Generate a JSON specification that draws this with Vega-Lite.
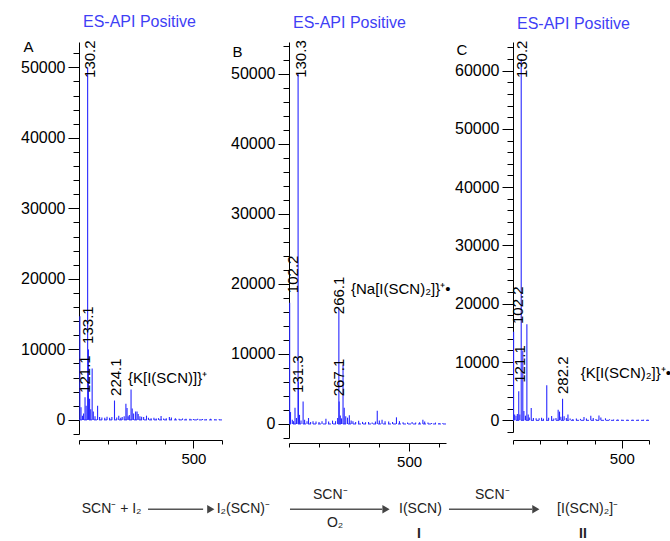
{
  "$schema": "https://vega.github.io/schema/vega-lite/v6.json",
  "padding": {"left": 20, "top": 14, "right": 0, "bottom": 0},
  "config": {
    "font": "Liberation Sans",
    "view": {"stroke": null},
    "axis": {"labelFontSize": 16, "labelColor": "black", "domainColor": "black", "tickColor": "black", "labelPadding": 3, "titleFontSize": 15, "titleFontWeight": "normal", "titleColor": "black", "grid": false, "labelOverlap": false, "labelFlush": false},
    "axisX": {"labelFontSize": 15},
    "title": {"anchor": "start", "frame": "group", "dx": 4, "color": "#3f3ff5", "fontSize": 16, "fontWeight": "normal", "baseline": "alphabetic", "offset": 9}
  },
  "datasets": {
    "peaks": [
      {"p": "A", "mz": 103, "v": 14700}, {"p": "A", "mz": 107, "v": 1800}, {"p": "A", "mz": 112, "v": 600}, {"p": "A", "mz": 116, "v": 900}, {"p": "A", "mz": 121.1, "v": 3200}, {"p": "A", "mz": 125, "v": 2000}, {"p": "A", "mz": 130.2, "v": 50000}, {"p": "A", "mz": 133.1, "v": 10000}, {"p": "A", "mz": 137, "v": 3000}, {"p": "A", "mz": 141, "v": 1500}, {"p": "A", "mz": 146, "v": 7300}, {"p": "A", "mz": 150, "v": 1200}, {"p": "A", "mz": 156, "v": 500}, {"p": "A", "mz": 165, "v": 2000}, {"p": "A", "mz": 172, "v": 400}, {"p": "A", "mz": 180, "v": 350}, {"p": "A", "mz": 190, "v": 300}, {"p": "A", "mz": 198, "v": 450}, {"p": "A", "mz": 207, "v": 300}, {"p": "A", "mz": 215, "v": 400}, {"p": "A", "mz": 224.1, "v": 2750}, {"p": "A", "mz": 232, "v": 350}, {"p": "A", "mz": 239, "v": 600}, {"p": "A", "mz": 246, "v": 300}, {"p": "A", "mz": 251, "v": 400}, {"p": "A", "mz": 258, "v": 500}, {"p": "A", "mz": 264, "v": 2300}, {"p": "A", "mz": 268, "v": 1700}, {"p": "A", "mz": 272, "v": 500}, {"p": "A", "mz": 276, "v": 700}, {"p": "A", "mz": 282, "v": 4300}, {"p": "A", "mz": 286, "v": 1600}, {"p": "A", "mz": 291, "v": 900}, {"p": "A", "mz": 298, "v": 1200}, {"p": "A", "mz": 303, "v": 1200}, {"p": "A", "mz": 307, "v": 850}, {"p": "A", "mz": 313, "v": 500}, {"p": "A", "mz": 319, "v": 450}, {"p": "A", "mz": 326, "v": 400}, {"p": "A", "mz": 336, "v": 600}, {"p": "A", "mz": 343, "v": 300}, {"p": "A", "mz": 352, "v": 250}, {"p": "A", "mz": 362, "v": 300}, {"p": "A", "mz": 370, "v": 200}, {"p": "A", "mz": 378, "v": 250}, {"p": "A", "mz": 387, "v": 550}, {"p": "A", "mz": 396, "v": 200}, {"p": "A", "mz": 405, "v": 250}, {"p": "A", "mz": 416, "v": 400}, {"p": "A", "mz": 423, "v": 350}, {"p": "A", "mz": 437, "v": 250}, {"p": "A", "mz": 450, "v": 150}, {"p": "A", "mz": 462, "v": 200}, {"p": "A", "mz": 474, "v": 150}, {"p": "A", "mz": 488, "v": 150}, {"p": "A", "mz": 500, "v": 120}, {"p": "A", "mz": 515, "v": 150}, {"p": "A", "mz": 532, "v": 120}, {"p": "A", "mz": 545, "v": 100}, {"p": "A", "mz": 560, "v": 180}, {"p": "A", "mz": 575, "v": 100}, {"p": "A", "mz": 590, "v": 100},
      {"p": "B", "mz": 102.2, "v": 17300}, {"p": "B", "mz": 105, "v": 1700}, {"p": "B", "mz": 111, "v": 600}, {"p": "B", "mz": 115, "v": 400}, {"p": "B", "mz": 120, "v": 2300}, {"p": "B", "mz": 125, "v": 850}, {"p": "B", "mz": 130.3, "v": 50000}, {"p": "B", "mz": 131.3, "v": 6000}, {"p": "B", "mz": 135, "v": 1300}, {"p": "B", "mz": 140, "v": 500}, {"p": "B", "mz": 147, "v": 3200}, {"p": "B", "mz": 152, "v": 600}, {"p": "B", "mz": 160, "v": 400}, {"p": "B", "mz": 165, "v": 850}, {"p": "B", "mz": 172, "v": 300}, {"p": "B", "mz": 180, "v": 400}, {"p": "B", "mz": 190, "v": 350}, {"p": "B", "mz": 200, "v": 300}, {"p": "B", "mz": 210, "v": 400}, {"p": "B", "mz": 223, "v": 760}, {"p": "B", "mz": 232, "v": 350}, {"p": "B", "mz": 245, "v": 480}, {"p": "B", "mz": 255, "v": 400}, {"p": "B", "mz": 262, "v": 850}, {"p": "B", "mz": 266.1, "v": 16600}, {"p": "B", "mz": 267.1, "v": 3200}, {"p": "B", "mz": 271, "v": 1200}, {"p": "B", "mz": 275, "v": 800}, {"p": "B", "mz": 280, "v": 8500}, {"p": "B", "mz": 284, "v": 2300}, {"p": "B", "mz": 289, "v": 1100}, {"p": "B", "mz": 295, "v": 900}, {"p": "B", "mz": 301, "v": 1240}, {"p": "B", "mz": 307, "v": 500}, {"p": "B", "mz": 313, "v": 400}, {"p": "B", "mz": 322, "v": 300}, {"p": "B", "mz": 332, "v": 450}, {"p": "B", "mz": 345, "v": 300}, {"p": "B", "mz": 355, "v": 250}, {"p": "B", "mz": 365, "v": 300}, {"p": "B", "mz": 377, "v": 200}, {"p": "B", "mz": 388, "v": 350}, {"p": "B", "mz": 394, "v": 1900}, {"p": "B", "mz": 401, "v": 500}, {"p": "B", "mz": 410, "v": 600}, {"p": "B", "mz": 420, "v": 400}, {"p": "B", "mz": 432, "v": 350}, {"p": "B", "mz": 445, "v": 300}, {"p": "B", "mz": 458, "v": 950}, {"p": "B", "mz": 468, "v": 400}, {"p": "B", "mz": 480, "v": 250}, {"p": "B", "mz": 495, "v": 200}, {"p": "B", "mz": 510, "v": 300}, {"p": "B", "mz": 522, "v": 200}, {"p": "B", "mz": 535, "v": 250}, {"p": "B", "mz": 546, "v": 600}, {"p": "B", "mz": 552, "v": 350}, {"p": "B", "mz": 563, "v": 200}, {"p": "B", "mz": 575, "v": 150}, {"p": "B", "mz": 588, "v": 200}, {"p": "B", "mz": 600, "v": 150}, {"p": "B", "mz": 612, "v": 100},
      {"p": "C", "mz": 102.2, "v": 15200}, {"p": "C", "mz": 106, "v": 1000}, {"p": "C", "mz": 111, "v": 800}, {"p": "C", "mz": 116, "v": 1100}, {"p": "C", "mz": 121.1, "v": 5000}, {"p": "C", "mz": 125, "v": 1000}, {"p": "C", "mz": 130.2, "v": 62000}, {"p": "C", "mz": 136, "v": 12000}, {"p": "C", "mz": 140, "v": 1600}, {"p": "C", "mz": 146, "v": 800}, {"p": "C", "mz": 151, "v": 16500}, {"p": "C", "mz": 156, "v": 1000}, {"p": "C", "mz": 160, "v": 500}, {"p": "C", "mz": 167, "v": 2100}, {"p": "C", "mz": 175, "v": 400}, {"p": "C", "mz": 185, "v": 350}, {"p": "C", "mz": 196, "v": 350}, {"p": "C", "mz": 205, "v": 450}, {"p": "C", "mz": 212, "v": 300}, {"p": "C", "mz": 224.1, "v": 6000}, {"p": "C", "mz": 231, "v": 450}, {"p": "C", "mz": 242, "v": 740}, {"p": "C", "mz": 250, "v": 300}, {"p": "C", "mz": 258, "v": 400}, {"p": "C", "mz": 266, "v": 1800}, {"p": "C", "mz": 271, "v": 1500}, {"p": "C", "mz": 276, "v": 600}, {"p": "C", "mz": 282.2, "v": 3700}, {"p": "C", "mz": 288, "v": 700}, {"p": "C", "mz": 296, "v": 400}, {"p": "C", "mz": 302, "v": 1000}, {"p": "C", "mz": 310, "v": 300}, {"p": "C", "mz": 320, "v": 250}, {"p": "C", "mz": 333, "v": 300}, {"p": "C", "mz": 348, "v": 250}, {"p": "C", "mz": 361, "v": 570}, {"p": "C", "mz": 370, "v": 300}, {"p": "C", "mz": 386, "v": 800}, {"p": "C", "mz": 395, "v": 400}, {"p": "C", "mz": 405, "v": 250}, {"p": "C", "mz": 416, "v": 850}, {"p": "C", "mz": 423, "v": 500}, {"p": "C", "mz": 440, "v": 350}, {"p": "C", "mz": 455, "v": 200}, {"p": "C", "mz": 470, "v": 150}, {"p": "C", "mz": 485, "v": 150}, {"p": "C", "mz": 500, "v": 120}, {"p": "C", "mz": 520, "v": 100}, {"p": "C", "mz": 540, "v": 100}, {"p": "C", "mz": 560, "v": 100}, {"p": "C", "mz": 580, "v": 100}, {"p": "C", "mz": 595, "v": 100}
    ],
    "labels": [
      {"p": "A", "t": "130.2", "mz": 140, "v": 48500, "r": 1},
      {"p": "A", "t": "133.1", "mz": 133.2, "v": 10780, "r": 1},
      {"p": "A", "t": "121.1", "mz": 122.7, "v": 3830, "r": 1},
      {"p": "A", "t": "224.1", "mz": 227.7, "v": 3400, "r": 1},
      {"p": "A", "t": "{K[I(SCN)]}\u207a", "mz": 271.4, "v": 5960, "r": 0},
      {"p": "B", "t": "130.3", "mz": 138.5, "v": 49390, "r": 1},
      {"p": "B", "t": "102.2", "mz": 113.4, "v": 18670, "r": 1},
      {"p": "B", "t": "131.3", "mz": 130.1, "v": 4430, "r": 1},
      {"p": "B", "t": "266.1", "mz": 265.7, "v": 15670, "r": 1},
      {"p": "B", "t": "267.1", "mz": 265.7, "v": 3960, "r": 1},
      {"p": "B", "t": "{Na[I(SCN)\u2082]}\u207a\u2022", "mz": 306.5, "v": 19240, "r": 0},
      {"p": "C", "t": "130.2", "mz": 132, "v": 58710, "r": 1},
      {"p": "C", "t": "102.2", "mz": 117.3, "v": 16520, "r": 1},
      {"p": "C", "t": "121.1", "mz": 126.5, "v": 6450, "r": 1},
      {"p": "C", "t": "282.2", "mz": 284.7, "v": 4510, "r": 1},
      {"p": "C", "t": "{K[I(SCN)\u2082]}\u207a\u2022", "mz": 349, "v": 8160, "r": 0}
    ],
    "scheme": [
      {"k": "text", "t": "SCN\u207b + I\u2082", "x": 0.46, "y": 57.5},
      {"k": "text", "t": "I\u2082(SCN)\u207b", "x": 23.3, "y": 57.5},
      {"k": "text", "t": "SCN\u207b", "x": 39.6, "y": 37.5},
      {"k": "text", "t": "O\u2082", "x": 41.96, "y": 77.5},
      {"k": "text", "t": "I(SCN)", "x": 54.15, "y": 57.5},
      {"k": "text", "t": "SCN\u207b", "x": 67.0, "y": 37.5},
      {"k": "text", "t": "[I(SCN)\u2082]\u207b", "x": 80.9, "y": 57.5},
      {"k": "bold", "t": "I", "x": 57.2, "y": 92.5},
      {"k": "bold", "t": "II", "x": 84.6, "y": 92.5},
      {"k": "arrow", "x": 11.68, "x2": 21.0, "y": 57.5},
      {"k": "arrow", "x": 35.7, "x2": 51.3, "y": 57.5},
      {"k": "arrow", "x": 62.6, "x2": 76.65, "y": 57.5},
      {"k": "head", "x": 22.3, "y": 57.5},
      {"k": "head", "x": 51.95, "y": 57.5},
      {"k": "head", "x": 77.3, "y": 57.5}
    ]
  },
  "vconcat": [
    {
      "hconcat": [
        {
          "width": 143, "height": 392,
          "title": "ES-API Positive",
          "resolve": {"axis": {"x": "independent", "y": "independent"}},
          "layer": [
            {"data": {"name": "peaks"}, "transform": [{"filter": "datum.p === 'A'"}],
             "mark": {"type": "rule", "color": "#2828ff", "strokeWidth": 1.1},
             "encoding": {
               "x": {"field": "mz", "type": "quantitative", "scale": {"domain": [100, 600], "nice": false, "zero": false},
                     "axis": {"orient": "bottom", "values": [500], "tickSize": 8, "offset": 6, "title": null}},
               "y": {"field": "v", "type": "quantitative", "scale": {"domain": [-2000, 53600], "nice": false, "zero": false},
                     "axis": {"orient": "left", "values": [0, 10000, 20000, 30000, 40000, 50000], "format": "d", "tickSize": 11,
                              "title": "A", "titleAngle": 0, "titleX": -56, "titleY": 4, "titleAlign": "left", "titleBaseline": "middle"}},
               "y2": {"datum": 0}}},
            {"data": {"values": [{}]}, "mark": {"type": "rule", "color": "#3030ff", "strokeWidth": 1, "strokeDash": [3, 2]}, "encoding": {"y": {"datum": 0, "axis": null}}},
            {"data": {"name": "labels"}, "transform": [{"filter": "datum.p === 'A' && datum.r === 1"}],
             "mark": {"type": "text", "angle": 270, "align": "left", "baseline": "middle", "fontSize": 15, "color": "black"},
             "encoding": {
               "x": {"field": "mz", "type": "quantitative", "axis": {"orient": "bottom", "values": [100, 200, 300, 400, 500, 600], "tickSize": 4, "labels": false, "domain": false, "offset": 6, "title": null}},
               "y": {"field": "v", "type": "quantitative", "axis": {"orient": "left", "values": [-2000, 2000, 4000, 6000, 8000, 12000, 14000, 16000, 18000, 22000, 24000, 26000, 28000, 32000, 34000, 36000, 38000, 42000, 44000, 46000, 48000, 52000], "tickSize": 6, "labels": false, "domain": false, "title": null}},
               "text": {"field": "t"}}},
            {"data": {"name": "labels"}, "transform": [{"filter": "datum.p === 'A' && datum.r === 0"}],
             "mark": {"type": "text", "align": "left", "baseline": "middle", "fontSize": 15, "color": "black"},
             "encoding": {"x": {"field": "mz", "type": "quantitative", "axis": null}, "y": {"field": "v", "type": "quantitative", "axis": null}, "text": {"field": "t"}}}
          ]
        },
        {
          "width": 157, "height": 396,
          "title": "ES-API Positive",
          "resolve": {"axis": {"x": "independent", "y": "independent"}},
          "layer": [
            {"data": {"name": "peaks"}, "transform": [{"filter": "datum.p === 'B'"}],
             "mark": {"type": "rule", "color": "#2828ff", "strokeWidth": 1.1},
             "encoding": {
               "x": {"field": "mz", "type": "quantitative", "scale": {"domain": [100, 623], "nice": false, "zero": false},
                     "axis": {"orient": "bottom", "values": [500], "tickSize": 8, "offset": 5, "title": null}},
               "y": {"field": "v", "type": "quantitative", "scale": {"domain": [-2000, 54500], "nice": false, "zero": false},
                     "axis": {"orient": "left", "values": [0, 10000, 20000, 30000, 40000, 50000], "format": "d", "tickSize": 11,
                              "title": "B", "titleAngle": 0, "titleX": -57, "titleY": 9, "titleAlign": "left", "titleBaseline": "middle"}},
               "y2": {"datum": 0}}},
            {"data": {"values": [{}]}, "mark": {"type": "rule", "color": "#3030ff", "strokeWidth": 1, "strokeDash": [3, 2]}, "encoding": {"y": {"datum": 0, "axis": null}}},
            {"data": {"name": "labels"}, "transform": [{"filter": "datum.p === 'B' && datum.r === 1"}],
             "mark": {"type": "text", "angle": 270, "align": "left", "baseline": "middle", "fontSize": 15, "color": "black"},
             "encoding": {
               "x": {"field": "mz", "type": "quantitative", "axis": {"orient": "bottom", "values": [100, 200, 300, 400, 500, 600], "tickSize": 4, "labels": false, "domain": false, "offset": 5, "title": null}},
               "y": {"field": "v", "type": "quantitative", "axis": {"orient": "left", "values": [-2000, 2000, 4000, 6000, 8000, 12000, 14000, 16000, 18000, 22000, 24000, 26000, 28000, 32000, 34000, 36000, 38000, 42000, 44000, 46000, 48000, 52000, 54000], "tickSize": 6, "labels": false, "domain": false, "title": null}},
               "text": {"field": "t"}}},
            {"data": {"name": "labels"}, "transform": [{"filter": "datum.p === 'B' && datum.r === 0"}],
             "mark": {"type": "text", "align": "left", "baseline": "middle", "fontSize": 15, "color": "black"},
             "encoding": {"x": {"field": "mz", "type": "quantitative", "axis": null}, "y": {"field": "v", "type": "quantitative", "axis": null}, "text": {"field": "t"}}}
          ]
        },
        {
          "width": 136, "height": 390,
          "title": "ES-API Positive",
          "resolve": {"axis": {"x": "independent", "y": "independent"}},
          "layer": [
            {"data": {"name": "peaks"}, "transform": [{"filter": "datum.p === 'C'"}],
             "mark": {"type": "rule", "color": "#2828ff", "strokeWidth": 1.1},
             "encoding": {
               "x": {"field": "mz", "type": "quantitative", "scale": {"domain": [100, 600], "nice": false, "zero": false},
                     "axis": {"orient": "bottom", "values": [500], "tickSize": 8, "offset": 8, "title": null}},
               "y": {"field": "v", "type": "quantitative", "scale": {"domain": [-2000, 64900], "nice": false, "zero": false},
                     "axis": {"orient": "left", "values": [0, 10000, 20000, 30000, 40000, 50000, 60000], "format": "d", "tickSize": 11,
                              "title": "C", "titleAngle": 0, "titleX": -57, "titleY": 7, "titleAlign": "left", "titleBaseline": "middle"}},
               "y2": {"datum": 0}}},
            {"data": {"values": [{}]}, "mark": {"type": "rule", "color": "#3030ff", "strokeWidth": 1, "strokeDash": [3, 2]}, "encoding": {"y": {"datum": 0, "axis": null}}},
            {"data": {"name": "labels"}, "transform": [{"filter": "datum.p === 'C' && datum.r === 1"}],
             "mark": {"type": "text", "angle": 270, "align": "left", "baseline": "middle", "fontSize": 15, "color": "black"},
             "encoding": {
               "x": {"field": "mz", "type": "quantitative", "axis": {"orient": "bottom", "values": [100, 200, 300, 400, 500, 600], "tickSize": 4, "labels": false, "domain": false, "offset": 8, "title": null}},
               "y": {"field": "v", "type": "quantitative", "axis": {"orient": "left", "values": [-2000, 2000, 4000, 6000, 8000, 12000, 14000, 16000, 18000, 22000, 24000, 26000, 28000, 32000, 34000, 36000, 38000, 42000, 44000, 46000, 48000, 52000, 54000, 56000, 58000, 62000, 64000], "tickSize": 6, "labels": false, "domain": false, "title": null}},
               "text": {"field": "t"}}},
            {"data": {"name": "labels"}, "transform": [{"filter": "datum.p === 'C' && datum.r === 0"}],
             "mark": {"type": "text", "align": "left", "baseline": "middle", "fontSize": 15, "color": "black"},
             "encoding": {"x": {"field": "mz", "type": "quantitative", "axis": null}, "y": {"field": "v", "type": "quantitative", "axis": null}, "text": {"field": "t"}}}
          ]
        }
      ],
      "spacing": 67,
      "bounds": "flush"
    },
    {
      "width": 591, "height": 70,
      "data": {"name": "scheme"},
      "encoding": {
        "x": {"field": "x", "type": "quantitative", "scale": {"domain": [0, 100], "nice": false, "zero": false}, "axis": null},
        "y": {"field": "y", "type": "quantitative", "scale": {"domain": [0, 100], "nice": false, "zero": false, "reverse": true}, "axis": null}
      },
      "layer": [
        {"transform": [{"filter": "datum.k === 'text'"}], "mark": {"type": "text", "align": "left", "baseline": "middle", "fontSize": 14, "color": "#222222"}, "encoding": {"text": {"field": "t"}}},
        {"transform": [{"filter": "datum.k === 'bold'"}], "mark": {"type": "text", "align": "left", "baseline": "middle", "fontSize": 14, "fontWeight": "bold", "color": "#222222"}, "encoding": {"text": {"field": "t"}}},
        {"transform": [{"filter": "datum.k === 'arrow'"}], "mark": {"type": "rule", "color": "#555555", "strokeWidth": 1.3}, "encoding": {"x2": {"field": "x2"}}},
        {"transform": [{"filter": "datum.k === 'head'"}], "mark": {"type": "point", "shape": "triangle-right", "filled": true, "color": "#444444", "size": 70, "opacity": 1}}
      ]
    }
  ],
  "spacing": 0
}
